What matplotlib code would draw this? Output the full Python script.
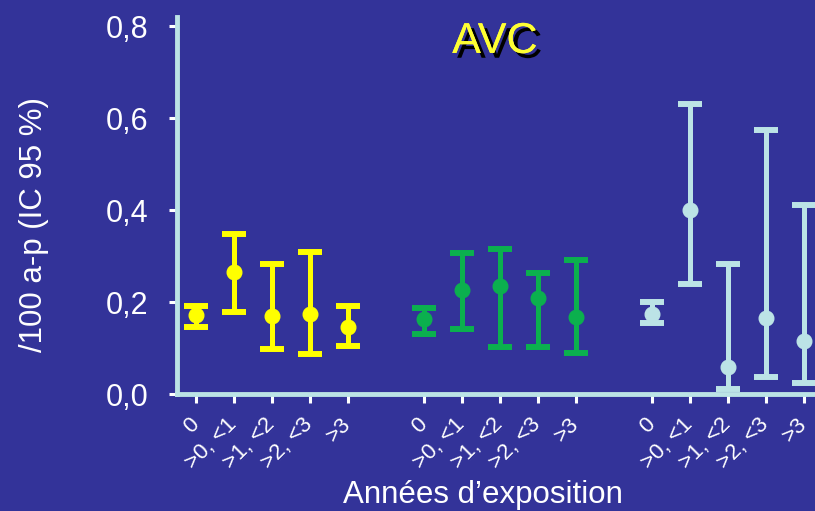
import matplotlib
matplotlib.use('Agg')
import matplotlib.pyplot as plt
import matplotlib.patheffects as pe
import numpy as np

plt.rcParams['font.family'] = ['Liberation Sans', 'DejaVu Sans']

categories = ['0', '>0, <1', '>1, <2', '>2, <3', '>3']

# three cohorts (yellow, green, light blue): point estimate, lower and upper 95% CI
yellow_est = [0.172, 0.266, 0.170, 0.175, 0.147]
yellow_low = [0.146, 0.179, 0.099, 0.087, 0.105]
yellow_up = [0.193, 0.349, 0.284, 0.309, 0.193]

green_est = [0.165, 0.228, 0.235, 0.210, 0.169]
green_low = [0.132, 0.143, 0.104, 0.104, 0.091]
green_up = [0.188, 0.308, 0.317, 0.265, 0.292]

blue_est = [0.175, 0.400, 0.060, 0.166, 0.117]
blue_low = [0.155, 0.241, 0.011, 0.037, 0.026]
blue_up = [0.202, 0.630, 0.284, 0.574, 0.412]

bg = '#333399'
axis_col = '#BCE3E6'
colors = ['#FFFF00', '#0BB04E', '#BCE3E6']
series = [(yellow_est, yellow_low, yellow_up),
          (green_est, green_low, green_up),
          (blue_est, blue_low, blue_up)]

fig = plt.figure(figsize=(8.15, 5.11), dpi=100, facecolor=bg)
ax = fig.add_axes([0.2172, 0.228, 0.7828, 0.7387], facecolor=bg)

ticks = []
labels = []
for g, (est, low, up) in enumerate(series):
    x = np.arange(len(categories)) + g * (len(categories) + 1)
    est = np.array(est)
    err = [est - np.array(low), np.array(up) - est]
    ax.errorbar(x, est, yerr=err, fmt='o', color=colors[g], ecolor=colors[g],
                markersize=10.5, elinewidth=3.6, capsize=8.5, capthick=4.3,
                clip_on=False, zorder=3)
    ticks.extend(x)
    labels.extend(categories)

ax.set_xlim(-0.5, 16.3)
ax.set_ylim(0, 0.82)
ax.set_yticks([0, 0.2, 0.4, 0.6, 0.8])
ax.set_yticklabels(['0,0', '0,2', '0,4', '0,6', '0,8'], color='white', fontsize=22)
ax.set_xticks(ticks)
ax.set_xticklabels(labels, color='white', fontsize=16, rotation=45,
                   ha='right', va='center', rotation_mode='anchor')

ax.tick_params(axis='x', direction='out', length=6.5, width=2.2, color='white', pad=13)
ax.tick_params(axis='y', direction='out', length=5.5, width=2.2, color='white', pad=15)

for s in ['top', 'right']:
    ax.spines[s].set_visible(False)
for s in ['left', 'bottom']:
    ax.spines[s].set_color(axis_col)
    ax.spines[s].set_linewidth(3.5)

fig.text(0.042, 0.56, '/100 a-p (IC 95 %)', rotation=90, color='white',
         fontsize=22.5, ha='center', va='center')
fig.text(0.592, 0.031, 'Années d\u2019exposition', color='white', fontsize=22.5,
         ha='center', va='center')
fig.text(0.607, 0.918, 'AVC', color='#FFFF33', fontsize=31, ha='center', va='center',
         path_effects=[pe.withSimplePatchShadow(offset=(3.5, -3.5), shadow_rgbFace='black', alpha=1), pe.Normal()])

fig.savefig('out.png', dpi=100, facecolor=bg)
plt.close(fig)
